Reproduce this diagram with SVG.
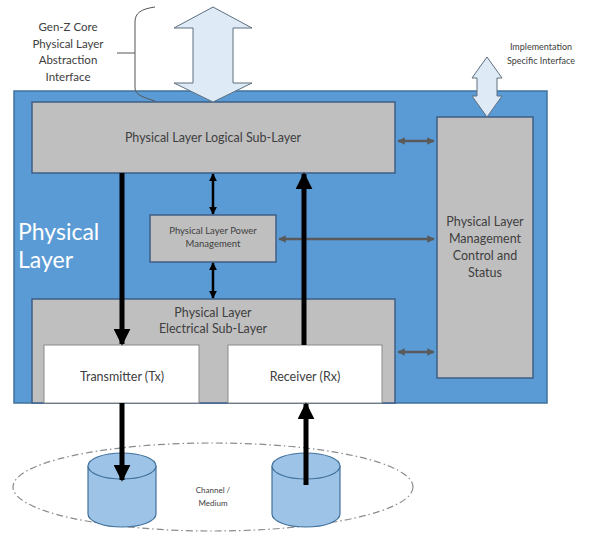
<svg xmlns="http://www.w3.org/2000/svg" width="589" height="533" viewBox="0 0 589 533">
  <style>
    .frame { fill: #5b9bd5; stroke: #41719c; stroke-width: 1.5; }
    .box { fill: #bfbfbf; stroke: #3f5f86; stroke-width: 1.5; }
    .white { fill: #ffffff; stroke: #8a8a8a; stroke-width: 1; }
    .lbl { font-family: Lato, "Liberation Sans", sans-serif; fill: #404040; text-anchor: middle; }
    .big { fill: #deebf7; stroke: #5f6f7f; stroke-width: 1; }
    .thick { stroke: #000000; stroke-width: 5; fill: none; }
    .thin { stroke: #000000; stroke-width: 2.5; fill: none; }
    .grey { stroke: #5a5a5a; stroke-width: 2.5; fill: none; }
    .cyl { fill: #9dc3e6; stroke: #41719c; stroke-width: 1.2; }
  </style>
  <defs>
    <marker id="bigHead" viewBox="0 0 10 10" refX="9" refY="5" markerWidth="3.4" markerHeight="3.4" markerUnits="strokeWidth" orient="auto-start-reverse">
      <path d="M0,0 L10,5 L0,10 z" fill="#000000"/>
    </marker>
    <marker id="smallHead" viewBox="0 0 10 10" refX="9" refY="5" markerWidth="3.2" markerHeight="3.4" markerUnits="strokeWidth" orient="auto-start-reverse">
      <path d="M0,0 L10,5 L0,10 z" fill="#000000"/>
    </marker>
    <marker id="greyHead" viewBox="0 0 10 10" refX="9" refY="5" markerWidth="3.8" markerHeight="3" markerUnits="strokeWidth" orient="auto-start-reverse">
      <path d="M0,0 L10,5 L0,10 z" fill="#5a5a5a"/>
    </marker>
  </defs>

  <!-- outer physical layer frame -->
  <g id="physical-layer">
    <rect class="frame" x="14" y="91" width="533" height="312"/>
    <text x="18" y="240" font-family="Lato, 'Liberation Sans', sans-serif" font-size="23" fill="#ffffff">Physical</text>
    <text x="18" y="268" font-family="Lato, 'Liberation Sans', sans-serif" font-size="23" fill="#ffffff">Layer</text>
  </g>

  <g id="logical-sublayer">
    <rect class="box" x="32" y="102" width="363" height="71"/>
    <text class="lbl" x="213" y="142" font-size="12.5">Physical Layer Logical Sub-Layer</text>
  </g>

  <g id="management">
    <rect class="box" x="437" y="117" width="96" height="261"/>
    <text class="lbl" x="485" y="226" font-size="12.5">Physical Layer</text>
    <text class="lbl" x="485" y="243" font-size="12.5">Management</text>
    <text class="lbl" x="485" y="260" font-size="12.5">Control and</text>
    <text class="lbl" x="485" y="277" font-size="12.5">Status</text>
  </g>

  <g id="power-management">
    <rect class="box" x="150" y="215" width="126" height="47"/>
    <text class="lbl" x="213" y="234" font-size="9.5">Physical Layer Power</text>
    <text class="lbl" x="213" y="247" font-size="9.5">Management</text>
  </g>

  <g id="electrical-sublayer">
    <rect class="box" x="32" y="299" width="363" height="104"/>
    <text class="lbl" x="213" y="317" font-size="12.5">Physical Layer</text>
    <text class="lbl" x="213" y="333" font-size="12.5">Electrical Sub-Layer</text>
  </g>

  <g id="transmitter">
    <rect class="white" x="44" y="345" width="155" height="58"/>
    <text class="lbl" x="122" y="381" font-size="12.5">Transmitter (Tx)</text>
  </g>

  <g id="receiver">
    <rect class="white" x="228" y="345" width="154" height="58"/>
    <text class="lbl" x="305" y="381" font-size="12.5">Receiver (Rx)</text>
  </g>

  <!-- abstraction interface label with brace -->
  <g id="abstraction-interface">
    <text class="lbl" x="68" y="31" font-size="11.5">Gen-Z Core</text>
    <text class="lbl" x="68" y="48" font-size="11.5">Physical Layer</text>
    <text class="lbl" x="68" y="64" font-size="11.5">Abstraction</text>
    <text class="lbl" x="68" y="81" font-size="11.5">Interface</text>
    <path d="M155,7 C141,9 135,13 135,22 L135,88 C135,95 145,98 155,101 M117,53 L135,53" fill="none" stroke="#555555" stroke-width="1"/>
    <path class="big" d="M213,7 L252,28 L233,28 L233,83 L252,83 L213,102 L174,83 L193,83 L193,28 L174,28 Z"/>
  </g>

  <g id="implementation-interface">
    <text class="lbl" x="541" y="50" font-size="9">Implementation</text>
    <text class="lbl" x="541" y="64" font-size="9">Specific Interface</text>
    <path class="big" d="M487,57 L502,78 L497,78 L497,96 L502,96 L487,117 L472,96 L477,96 L477,78 L472,78 Z"/>
  </g>

  <!-- channel / medium -->
  <g id="channel">
    <ellipse cx="213" cy="487" rx="200" ry="44" fill="none" stroke="#8c8c8c" stroke-width="1.2" stroke-dasharray="7 3 1.5 3"/>
    <text class="lbl" x="213" y="493" font-size="8">Channel /</text>
    <text class="lbl" x="213" y="506" font-size="8">Medium</text>
  </g>
  <g id="medium-tx">
    <path class="cyl" d="M88,466 L88,514 A34,13 0 0 0 156,514 L156,466"/>
    <ellipse class="cyl" cx="122" cy="466" rx="34" ry="13"/>
  </g>
  <g id="medium-rx">
    <path class="cyl" d="M272,466 L272,514 A34,13 0 0 0 340,514 L340,466"/>
    <ellipse class="cyl" cx="306" cy="466" rx="34" ry="13"/>
  </g>

  <g id="connectors">
    <line class="grey" x1="398" y1="141" x2="434" y2="141" marker-start="url(#greyHead)" marker-end="url(#greyHead)"/>
    <line class="grey" x1="398" y1="352" x2="434" y2="352" marker-start="url(#greyHead)" marker-end="url(#greyHead)"/>
    <line class="grey" x1="279" y1="239" x2="434" y2="239" marker-start="url(#greyHead)" marker-end="url(#greyHead)"/>
    <line class="thin" x1="213" y1="174" x2="213" y2="214" marker-start="url(#smallHead)" marker-end="url(#smallHead)"/>
    <line class="thin" x1="213" y1="263" x2="213" y2="298" marker-start="url(#smallHead)" marker-end="url(#smallHead)"/>
    <line class="thick" x1="122" y1="173" x2="122" y2="344" marker-end="url(#bigHead)"/>
    <line class="thick" x1="304" y1="345" x2="304" y2="174" marker-end="url(#bigHead)"/>
    <line class="thick" x1="122" y1="403" x2="122" y2="480" marker-end="url(#bigHead)"/>
    <line class="thick" x1="306" y1="485" x2="306" y2="404" marker-end="url(#bigHead)"/>
  </g>
</svg>
